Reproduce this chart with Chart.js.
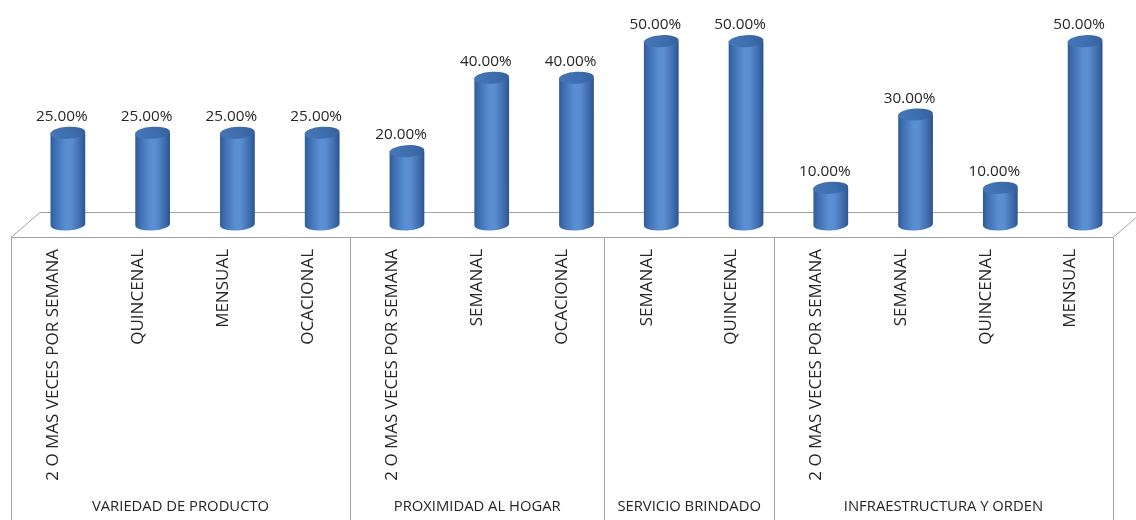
<!DOCTYPE html>
<html>
<head>
<meta charset="utf-8">
<script src="https://cdn.jsdelivr.net/npm/chart.js@4/dist/chart.umd.min.js"></script>
<style>
  html, body { margin: 0; padding: 0; background: #ffffff; }
  #wrap { width: 1136px; height: 520px; position: relative; }
</style>
</head>
<body>
<div id="wrap"><canvas id="chart"></canvas></div>
<script>
// Frequency of purchase by reason (share of respondents)
const categories = [
  '2 O MAS VECES POR SEMANA', 'QUINCENAL', 'MENSUAL', 'OCACIONAL',
  '2 O MAS VECES POR SEMANA', 'SEMANAL', 'OCACIONAL',
  'SEMANAL', 'QUINCENAL',
  '2 O MAS VECES POR SEMANA', 'SEMANAL', 'QUINCENAL', 'MENSUAL'
];
const values = [25, 25, 25, 25, 20, 40, 40, 50, 50, 10, 30, 10, 50];
const groupNames = ['VARIEDAD DE PRODUCTO', 'PROXIMIDAD AL HOGAR', 'SERVICIO BRINDADO', 'INFRAESTRUCTURA Y ORDEN'];
const groupSizes = [4, 3, 2, 4];

// 3D look: floor depth offset and bar position inside that depth
const DEPTH_X = 29, DEPTH_Y = -25;
const BAR_DX = DEPTH_X / 2, BAR_DY = DEPTH_Y / 2;
const LINE_COLOR = '#a3a3a3';
const TEXT_COLOR = '#262626';
const FONT_FAMILY = '"Open Sans", "Noto Sans", sans-serif';

const floorPlugin = {
  id: 'floor3d',
  beforeDatasetsDraw(chart) {
    const { ctx, chartArea, scales } = chart;
    const x = scales.x;
    const left = x.getPixelForValue(-0.5);
    const right = x.getPixelForValue(categories.length - 0.5);
    const yf = chartArea.bottom;
    ctx.save();
    ctx.strokeStyle = LINE_COLOR;
    ctx.lineWidth = 1;
    ctx.beginPath();
    ctx.moveTo(left, yf + 0.5);
    ctx.lineTo(left + DEPTH_X, yf + DEPTH_Y + 0.5);
    ctx.lineTo(right + DEPTH_X, yf + DEPTH_Y + 0.5);
    ctx.moveTo(right, yf + 0.5);
    ctx.lineTo(right + DEPTH_X, yf + DEPTH_Y + 0.5);
    ctx.stroke();
    ctx.restore();
  },
  afterDatasetsDraw(chart) {
    const { ctx } = chart;
    const meta = chart.getDatasetMeta(0);
    ctx.save();
    meta.data.forEach((bar, i) => {
      const p = bar.getProps(['x', 'y', 'base', 'width'], true);
      const cx = p.x + BAR_DX;
      const rx = p.width / 2;
      const ry = 6;
      const topY = p.y + BAR_DY;
      const botY = p.base + BAR_DY;
      const tilt = -0.06;

      // body
      const g = ctx.createLinearGradient(cx - rx, 0, cx + rx, 0);
      g.addColorStop(0, '#2f5c98');
      g.addColorStop(0.12, '#3d6db0');
      g.addColorStop(0.45, '#5b8fd3');
      g.addColorStop(0.6, '#5a8dd0');
      g.addColorStop(0.88, '#3b68a8');
      g.addColorStop(1, '#2a548d');
      ctx.beginPath();
      ctx.moveTo(cx - rx, topY);
      ctx.lineTo(cx - rx, botY);
      ctx.ellipse(cx, botY, rx, ry, tilt, Math.PI, 0, true);
      ctx.lineTo(cx + rx, topY);
      ctx.closePath();
      ctx.fillStyle = g;
      ctx.fill();

      // top cap
      const tg = ctx.createLinearGradient(cx - rx, topY + ry, cx + rx, topY - ry);
      tg.addColorStop(0, '#4677b8');
      tg.addColorStop(0.6, '#3e6dad');
      tg.addColorStop(1, '#325e9b');
      ctx.beginPath();
      ctx.ellipse(cx, topY, rx, ry, tilt, 0, Math.PI * 2);
      ctx.fillStyle = tg;
      ctx.fill();

      // value label
      ctx.fillStyle = TEXT_COLOR;
      ctx.font = '15.3px ' + FONT_FAMILY;
      ctx.textAlign = 'center';
      ctx.textBaseline = 'alphabetic';
      ctx.fillText(values[i].toFixed(2) + '%', cx - 6, topY - ry - 6);
    });
    ctx.restore();
  },
  afterDraw(chart) {
    const { ctx, chartArea, scales } = chart;
    const x = scales.x;
    const top = chartArea.bottom;
    const bottom = chart.height;
    ctx.save();
    ctx.strokeStyle = LINE_COLOR;
    ctx.lineWidth = 1;
    // group boundaries
    const bounds = [-0.5];
    let acc = -0.5;
    groupSizes.forEach(n => { acc += n; bounds.push(acc); });
    ctx.beginPath();
    bounds.forEach(b => {
      const px = Math.round(x.getPixelForValue(b)) + 0.5;
      ctx.moveTo(px, top + 0.5);
      ctx.lineTo(px, bottom);
    });
    // front edge of the floor
    ctx.moveTo(x.getPixelForValue(-0.5), top + 0.5);
    ctx.lineTo(x.getPixelForValue(categories.length - 0.5), top + 0.5);
    ctx.stroke();

    // group names
    ctx.fillStyle = TEXT_COLOR;
    ctx.font = '14.8px ' + FONT_FAMILY;
    ctx.textAlign = 'center';
    ctx.textBaseline = 'middle';
    groupNames.forEach((name, k) => {
      const mid = (x.getPixelForValue(bounds[k]) + x.getPixelForValue(bounds[k + 1])) / 2;
      ctx.fillText(name, mid, bottom - 13);
    });
    ctx.restore();
  }
};

new Chart(document.getElementById('chart'), {
  type: 'bar',
  data: {
    labels: categories,
    datasets: [{
      data: values,
      backgroundColor: 'rgba(0,0,0,0)',
      borderWidth: 0,
      barPercentage: 0.41,
      categoryPercentage: 1
    }]
  },
  options: {
    responsive: true,
    maintainAspectRatio: false,
    animation: false,
    layout: { padding: { left: 11, right: 23, top: 17, bottom: 0 } },
    plugins: {
      legend: { display: false },
      tooltip: { enabled: false }
    },
    scales: {
      x: {
        grid: { display: false, drawTicks: false },
        border: { display: false },
        ticks: {
          autoSkip: false,
          minRotation: 90,
          maxRotation: 90,
          padding: 12,
          color: TEXT_COLOR,
          font: { family: FONT_FAMILY, size: 17 }
        },
        afterFit(scale) { scale.height = 283; }
      },
      y: {
        display: false,
        min: 0,
        max: 60
      }
    }
  },
  plugins: [floorPlugin]
});
</script>
</body>
</html>
